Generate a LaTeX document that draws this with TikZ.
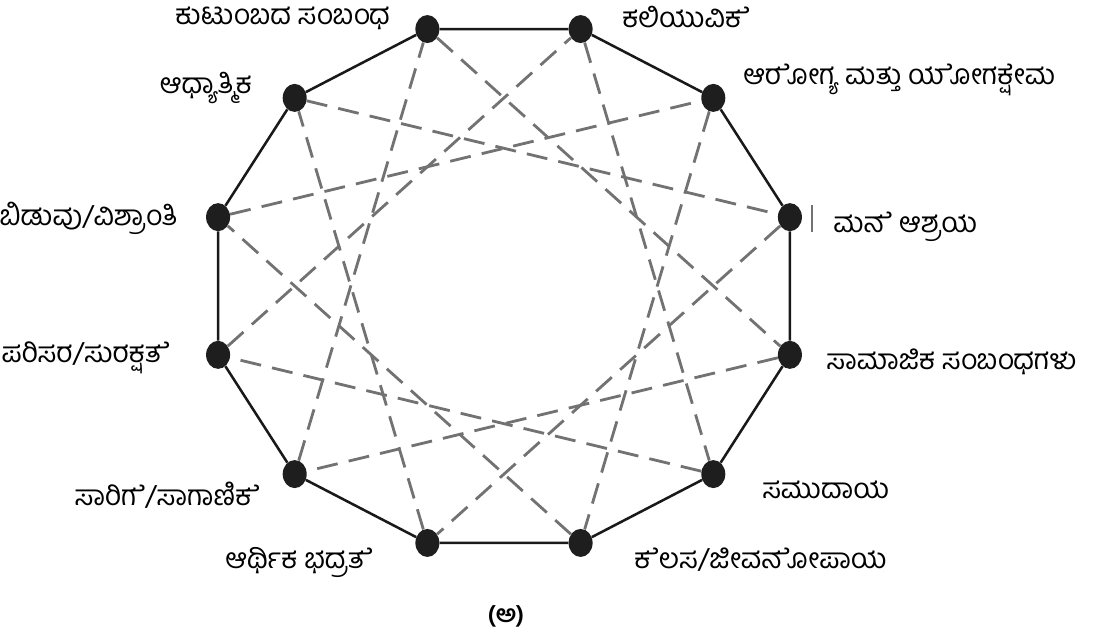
\documentclass[tikz,border=0pt]{standalone}
\usepackage{fontspec}
\newfontfamily\kannada[Script=Kannada]{Hind Mysuru}
\usetikzlibrary{shapes.geometric}
% joiner so that the e-sign is kept
\def\zj{^^^^200d}

\definecolor{dotcol}{HTML}{1E1E1E}
\definecolor{dashcol}{HTML}{727272}
\tikzset{
  dot/.style={ellipse, fill=dotcol, minimum width=0.6cm, minimum height=0.7cm, inner sep=0pt},
  rim/.style={line width=1.8pt, black!90},
  link/.style={dashcol, line width=2pt, dash pattern=on 15pt off 8pt},
  lbl/.style={font=\kannada\fontsize{20}{24}\selectfont, inner sep=0pt}
}

\begin{document}
\begin{tikzpicture}[x=0.025cm,y=0.025cm]
\useasboundingbox (-504,-352) rectangle (592,286);
% dots on the ring
\foreach \i/\a in {1/105,2/75,3/45,4/15,5/-15,6/-45,7/-75,8/-105,9/-135,10/-165,11/165,12/135}
  \node[dot] (n\i) at (\a:296 and 266) {};
% outer ring
\draw[rim] (n1) -- (n2) -- (n3) -- (n4) -- (n5) -- (n6) -- (n7) -- (n8) -- (n9) -- (n10) -- (n11) -- (n12) -- (n1);
% four dashed triangles
\foreach \i/\j in {1/5,5/9,9/1,2/6,6/10,10/2,3/7,7/11,11/3,4/8,8/12,12/4}
  \draw[link] (n\i) -- (n\j);
\draw[dashcol, line width=1pt] (308,81) -- (308,54);
% labels
\node[lbl, anchor=east] (l1) at (-114,268) {ಕುಟುಂಬದ ಸಂಬಂಧ};
\node[lbl, anchor=west] (l2) at (118,269) {ಕಲಿಯುವಿಕ\zj ೆ};
\node[lbl, anchor=west] (l3) at (239,206) {ಆರ\zj ೋಗ್ಯ ಮತ್ತು ಯ\zj ೋಗಕ್ಷ\zj ೇಮ};
\node[lbl, anchor=west] (l4) at (329,59) {ಮನ\zj ೆ ಆಶ್ರಯ};
\node[lbl, anchor=west] (l5) at (322,-76) {ಸಾಮಾಜಿಕ ಸಂಬಂಧಗಳು};
\node[lbl, anchor=west] (l6) at (258,-204) {ಸಮುದಾಯ};
\node[lbl, anchor=west] (l7) at (130,-274) {ಕ\zj ೆಲಸ/ಜೀವನ\zj ೋಪಾಯ};
\node[lbl, anchor=east] (l8) at (-131,-276) {ಆರ್ಥಿಕ ಭದ್ರತ\zj ೆ};
\node[lbl, anchor=east] (l9) at (-244,-209) {ಸಾರಿಗ\zj ೆ/ಸಾಗಾಣಿಕ\zj ೆ};
\node[lbl, anchor=east] (l10) at (-334,-72) {ಪರಿಸರ/ಸುರಕ್ಷತ\zj ೆ};
\node[lbl, anchor=east] (l11) at (-326,68) {ಬಿಡುವು/ವಿಶ್ರಾಂತಿ};
\node[lbl, anchor=east] (l12) at (-252,198) {ಆಧ್ಯಾತ್ಮಿಕ};
\node[lbl, font=\kannada\bfseries\fontsize{17}{20}\selectfont] (cap) at (2,-330) {(ಅ)};
\end{tikzpicture}
\end{document}
